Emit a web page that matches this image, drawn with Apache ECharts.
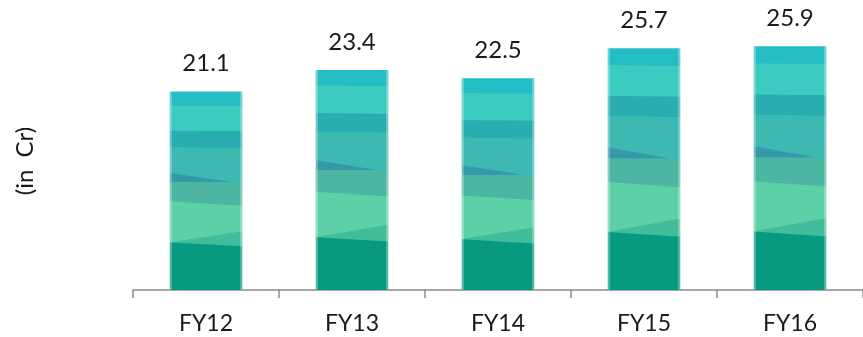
<!DOCTYPE html>
<html>
<head>
<meta charset="utf-8">
<script src="https://cdn.jsdelivr.net/npm/echarts@6/dist/echarts.min.js"></script>
<style>
  html, body { margin: 0; padding: 0; background: #ffffff; }
  #chart { width: 863px; height: 337px; }
</style>
</head>
<body>
<div id="chart"></div>
<script>
// Revenue per financial year
const categories = ['FY12', 'FY13', 'FY14', 'FY15', 'FY16'];
const revenue = [21.1, 23.4, 22.5, 25.7, 25.9];
const unitTitle = '(in  Cr)';

// Decorative band texture of each column: polygons in (across, down) fractions of the bar box
const BAND_TEXTURE = [
  { color: '#24bdc5', pts: [[0, 0], [1, 0], [1, 0.072], [0, 0.07]] },
  { color: '#3bcbc0', pts: [[0, 0.07], [1, 0.072], [1, 0.2], [0, 0.197]] },
  { color: '#2aadb0', pts: [[0, 0.197], [1, 0.2], [1, 0.285], [0, 0.28]] },
  { color: '#3db9b1', pts: [[0, 0.28], [1, 0.285], [1, 0.46], [0, 0.41]] },
  { color: '#3599aa', pts: [[0, 0.41], [0.85, 0.455], [0, 0.456]] },
  { color: '#4cb6a2', pts: [[0, 0.455], [1, 0.46], [1, 0.575], [0, 0.553]] },
  { color: '#5ed0a7', pts: [[0, 0.553], [1, 0.575], [1, 0.705], [0, 0.76]] },
  { color: '#42bd9b', pts: [[0, 0.76], [1, 0.705], [1, 0.78]] },
  { color: '#079a80', pts: [[0, 0.76], [1, 0.78], [1, 1], [0, 1]] }
];

const FONT = 'Lato, "Open Sans", sans-serif';

function renderColumn(params, api) {
  const idx = api.value(0);
  const val = api.value(1);
  const base = api.coord([idx, 0]);
  const top = api.coord([idx, val]);
  const w = api.size([1, 0])[0] * 0.495;
  const xl = base[0] - w / 2;
  const h = base[1] - top[1];
  const children = [{
    type: 'rect',
    shape: { x: xl, y: top[1], width: w, height: h },
    style: { fill: '#3db9b1' }
  }];
  BAND_TEXTURE.forEach(b => {
    children.push({
      type: 'polygon',
      shape: { points: b.pts.map(p => [xl + p[0] * w, top[1] + p[1] * h]) },
      style: { fill: b.color }
    });
  });
  // soft light rims along the column sides
  [xl + 1, xl + w - 1].forEach(x => {
    children.push({
      type: 'line',
      shape: { x1: x, y1: top[1], x2: x, y2: base[1] },
      style: { stroke: 'rgba(255,255,255,0.3)', lineWidth: 2 }
    });
  });
  children.push({
    type: 'text',
    style: {
      text: val.toFixed(1),
      x: base[0],
      y: top[1] - 28,
      textAlign: 'center',
      textVerticalAlign: 'middle',
      font: '24px ' + FONT,
      fill: '#1a1a1a'
    }
  });
  return { type: 'group', children: children };
}

const chart = echarts.init(document.getElementById('chart'), null, { renderer: 'canvas' });
chart.setOption({
  animation: false,
  backgroundColor: '#ffffff',
  grid: { left: 133, right: -9, top: 8, bottom: 47, containLabel: false },
  xAxis: {
    type: 'category',
    data: categories,
    boundaryGap: true,
    axisLine: { show: true, lineStyle: { color: '#8a8a8a', width: 1.5 } },
    axisTick: { show: true, length: 8, alignWithLabel: false, lineStyle: { color: '#8a8a8a', width: 1.5 } },
    axisLabel: { color: '#1a1a1a', fontSize: 23, fontFamily: FONT, margin: 22 },
    splitLine: { show: false }
  },
  yAxis: {
    type: 'value',
    min: 0,
    max: 30,
    show: false
  },
  graphic: [{
    type: 'text',
    x: 25,
    y: 161,
    rotation: Math.PI / 2,
    style: {
      text: unitTitle,
      textAlign: 'center',
      textVerticalAlign: 'middle',
      font: '24px ' + FONT,
      fill: '#1a1a1a'
    }
  }],
  series: [{
    type: 'custom',
    renderItem: renderColumn,
    encode: { x: 0, y: 1 },
    data: categories.map((c, i) => [i, revenue[i]]),
    clip: false
  }]
});
</script>
</body>
</html>
